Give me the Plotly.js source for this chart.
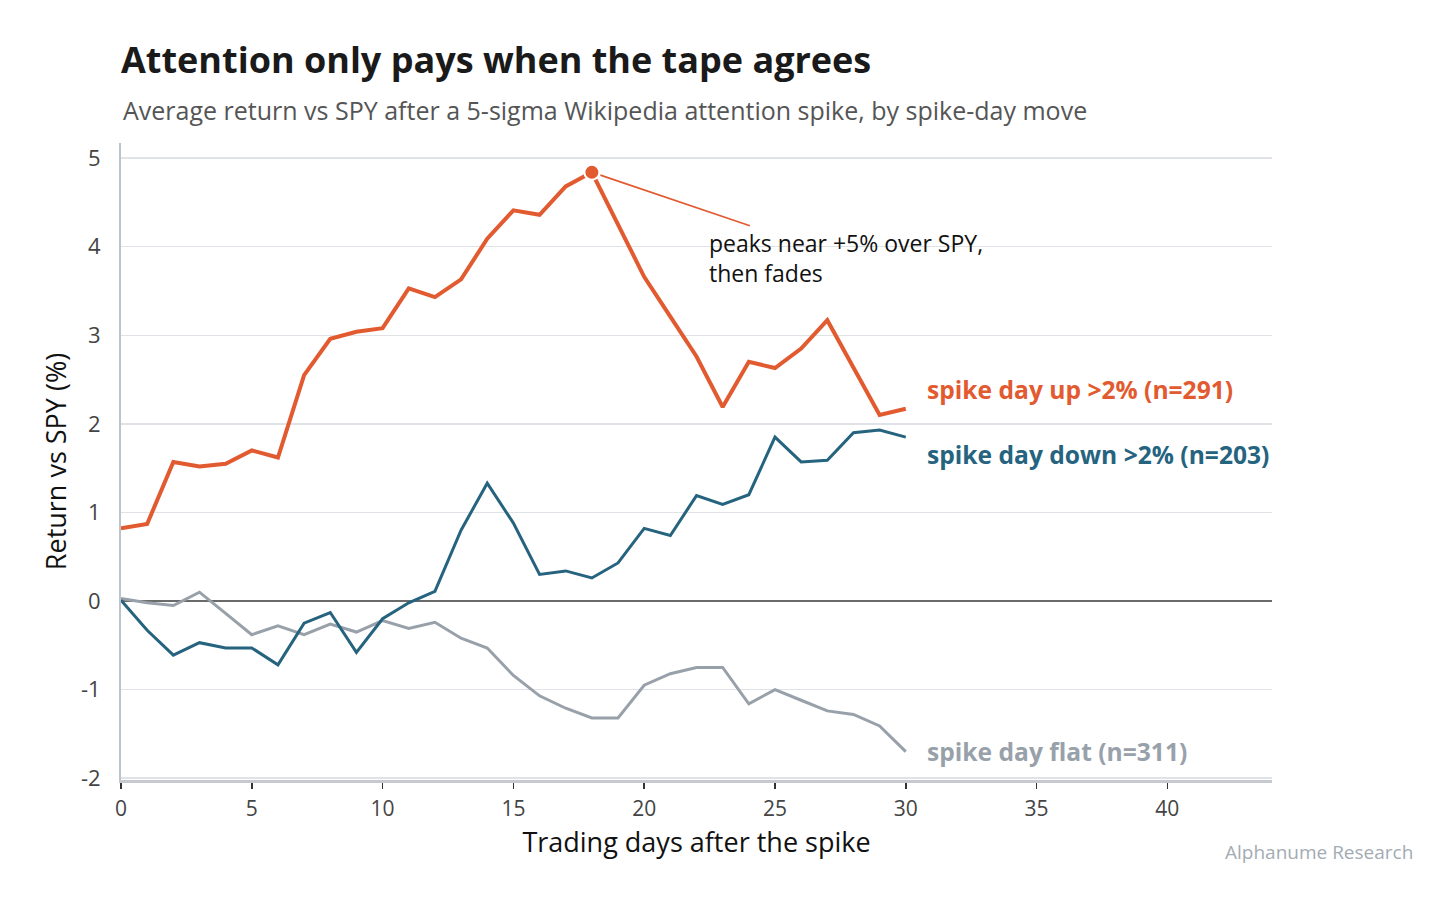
<!DOCTYPE html>
<html>
<head>
<meta charset="utf-8">
<script src="https://cdn.plot.ly/plotly-3.0.1.min.js"></script>
<style>
  html, body { margin: 0; padding: 0; background: #fff; }
  #chart { width: 1456px; height: 906px; }
</style>
</head>
<body>
<div id="chart"></div>
<script>
// trading days after the spike
const days = [];
for (let d = 0; d <= 30; d++) days.push(d);

// average return vs SPY (%)
const spikeUp = [0.82, 0.87, 1.57, 1.52, 1.55, 1.70, 1.62, 2.55, 2.96, 3.04,
                 3.08, 3.53, 3.43, 3.63, 4.09, 4.41, 4.36, 4.68, 4.84, 4.25,
                 3.66, 3.21, 2.76, 2.19, 2.70, 2.63, 2.85, 3.17, 2.63, 2.10, 2.17];
const spikeDown = [0.01, -0.33, -0.61, -0.47, -0.53, -0.53, -0.72, -0.25, -0.13, -0.58,
                   -0.20, -0.02, 0.11, 0.80, 1.33, 0.88, 0.30, 0.34, 0.26, 0.43,
                   0.82, 0.74, 1.19, 1.09, 1.20, 1.85, 1.57, 1.59, 1.90, 1.93, 1.85];
const spikeFlat = [0.03, -0.02, -0.05, 0.10, -0.14, -0.38, -0.28, -0.38, -0.26, -0.35,
                   -0.22, -0.31, -0.24, -0.42, -0.53, -0.84, -1.07, -1.21, -1.32, -1.32,
                   -0.95, -0.82, -0.75, -0.75, -1.16, -1.00, -1.12, -1.24, -1.28, -1.41, -1.70];

const xTicks = [0, 5, 10, 15, 20, 25, 30, 35, 40];
const yTicks = [-2, -1, 0, 1, 2, 3, 4, 5];
const yTickText = ['-2', '-1', '0', '1', '2', '3', '4', '5'];

const seriesNames = ['spike day up >2% (n=291)', 'spike day down >2% (n=203)', 'spike day flat (n=311)'];
const seriesColors = ['#e25a2f', '#25637f', '#98a1aa'];
const labelY = [2.39, 1.65, -1.70];   // end labels are nudged apart
const peakDay = 18;

const font = '"Open Sans", "Noto Sans", sans-serif';

const traces = [
  { x: days, y: spikeFlat, type: 'scatter', mode: 'lines',
    line: { color: seriesColors[2], width: 3 }, hoverinfo: 'skip' },
  { x: days, y: spikeDown, type: 'scatter', mode: 'lines',
    line: { color: seriesColors[1], width: 3 }, hoverinfo: 'skip' },
  { x: days, y: spikeUp, type: 'scatter', mode: 'lines',
    line: { color: seriesColors[0], width: 4 }, hoverinfo: 'skip' },
  { x: [days[peakDay]], y: [spikeUp[peakDay]], type: 'scatter', mode: 'markers',
    marker: { color: seriesColors[0], size: 15, line: { color: '#fff', width: 2 } }, hoverinfo: 'skip' }
];

const annotations = [
  { xref: 'paper', yref: 'paper', x: 0, y: 1.052, xanchor: 'left', yanchor: 'middle', showarrow: false,
    text: 'Average return vs SPY after a 5-sigma Wikipedia attention spike, by spike-day move',
    font: { family: font, size: 25, color: '#555' } },
  { x: days[peakDay], y: spikeUp[peakDay], ax: 254, ay: 86, showarrow: true, arrowhead: 0,
    arrowwidth: 1.6, arrowcolor: seriesColors[0], standoff: 9, align: 'left',
    text: 'peaks near +5% over SPY,<br>then fades',
    font: { family: font, size: 23, color: '#111' } },
  { xref: 'paper', yref: 'paper', x: 1.124, y: -0.113, xanchor: 'right', yanchor: 'middle', showarrow: false,
    text: 'Alphanume Research', font: { family: font, size: 19, color: '#a3abb3' } }
];
seriesNames.forEach((name, i) => {
  annotations.push({ x: 30.72, y: labelY[i], xanchor: 'left', yanchor: 'middle', showarrow: false,
    text: '<b>' + name + '</b>', font: { family: font, size: 24.6, color: seriesColors[i] } });
});

Plotly.newPlot('chart', traces, {
  width: 1456, height: 906,
  margin: { l: 121, r: 184, t: 143, b: 126 },
  paper_bgcolor: '#fff', plot_bgcolor: '#fff',
  showlegend: false,
  title: { text: '<b>Attention only pays when the tape agrees</b>', x: 121 / 1456, xanchor: 'left',
           y: 1 - 60 / 906, yanchor: 'middle', font: { family: font, size: 36, color: '#1a1a1a' } },
  xaxis: {
    range: [0, 44], tickvals: xTicks,
    showgrid: false, zeroline: false,
    showline: true, linecolor: '#c5cad0', linewidth: 3,
    ticks: 'outside', ticklen: 6, tickcolor: '#333', tickwidth: 1.5,
    ticklabelstandoff: 2,
    tickfont: { family: font, size: 21, color: '#444' },
    title: { text: 'Trading days after the spike', standoff: 12, font: { family: font, size: 27, color: '#111' } }
  },
  yaxis: {
    range: [-2.02, 5.17], tickvals: yTicks, ticktext: yTickText,
    showgrid: true, gridcolor: '#dfe3e7', gridwidth: 1.5,
    zeroline: true, zerolinecolor: '#6a6a6a', zerolinewidth: 1.5,
    showline: true, linecolor: '#bcc3ca', linewidth: 2,
    ticks: '', ticklabelstandoff: 14,
    tickfont: { family: font, size: 22, color: '#444' },
    title: { text: 'Return vs SPY (%)', standoff: 6, font: { family: font, size: 27, color: '#111' } }
  },
  annotations: annotations
}, { displayModeBar: false, staticPlot: true });
</script>
</body>
</html>
